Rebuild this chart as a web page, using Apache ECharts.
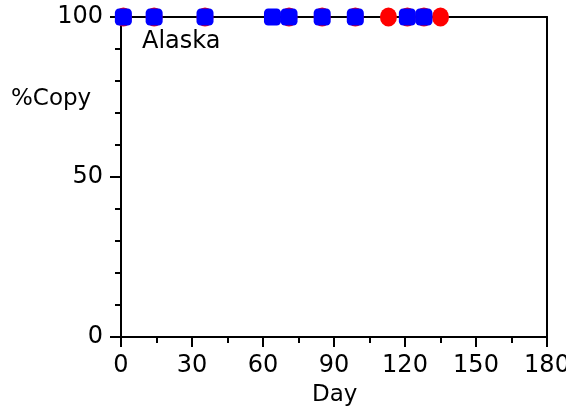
<!DOCTYPE html>
<html>
<head>
<meta charset="utf-8">
<script src="https://cdn.jsdelivr.net/npm/echarts@6/dist/echarts.min.js"></script>
<style>html,body{margin:0;padding:0;background:#fff;}#c{width:566px;height:413px;}</style>
</head>
<body>
<div id="c"></div>
<script>
var redDays = [1, 14, 35.5, 71, 85, 99, 113, 121, 128, 135];
var redCopy = [100, 100, 100, 100, 100, 100, 100, 100, 100, 100];
var blueDays = [1, 14, 35.5, 64, 71, 85, 99, 121, 128];
var blueCopy = [100, 100, 100, 100, 100, 100, 100, 100, 100];
var xTicks = [0, 30, 60, 90, 120, 150, 180];
var yTicks = [0, 50, 100];
var siteLabel = 'Alaska';
var xTitle = 'Day';
var yTitle = '%Copy';

var FONT = 'DejaVu Sans';
function pairs(xs, ys) { return xs.map(function (x, i) { return [x, ys[i]]; }); }

var chart = echarts.init(document.getElementById('c'), null, { renderer: 'canvas' });
chart.setOption({
  animation: false,
  backgroundColor: '#fff',
  grid: { left: 121, right: 19, top: 17, bottom: 76, show: false, containLabel: false, outerBoundsMode: 'none' },
  xAxis: [{
    type: 'value', min: xTicks[0], max: xTicks[xTicks.length - 1], interval: 30,
    axisLine: { show: true, lineStyle: { color: '#000', width: 2 } },
    axisTick: { show: true, inside: false, length: 10, lineStyle: { color: '#000', width: 2 } },
    minorTick: { show: true, splitNumber: 2, length: 6, lineStyle: { color: '#000', width: 2 } },
    splitLine: { show: false },
    axisLabel: { color: '#000', fontFamily: FONT, fontSize: 24, margin: 17 }
  }, {
    type: 'value', position: 'top', min: 0, max: 180,
    axisLine: { show: true, onZero: false, lineStyle: { color: '#000', width: 2 } },
    axisTick: { show: false }, axisLabel: { show: false }, splitLine: { show: false }
  }],
  yAxis: [{
    type: 'value', min: yTicks[0], max: yTicks[yTicks.length - 1], interval: 50,
    axisLine: { show: true, lineStyle: { color: '#000', width: 2 } },
    axisTick: { show: true, inside: false, length: 11, lineStyle: { color: '#000', width: 2 } },
    minorTick: { show: true, splitNumber: 5, length: 6, lineStyle: { color: '#000', width: 2 } },
    splitLine: { show: false },
    axisLabel: { color: '#000', fontFamily: FONT, fontSize: 24, margin: 18 }
  }, {
    type: 'value', position: 'right', min: 0, max: 100,
    axisLine: { show: true, onZero: false, lineStyle: { color: '#000', width: 2 } },
    axisTick: { show: false }, axisLabel: { show: false }, splitLine: { show: false }
  }],
  graphic: [
    { type: 'text', left: 142, top: 30, style: { text: siteLabel, fill: '#000', font: '24px "DejaVu Sans"' } },
    { type: 'text', left: 11, top: 88, style: { text: yTitle, fill: '#000', font: '23px "DejaVu Sans"' } },
    { type: 'text', left: 312, top: 384, style: { text: xTitle, fill: '#000', font: '23px "DejaVu Sans"' } }
  ],
  series: [{
    type: 'scatter', data: pairs(redDays, redCopy), symbol: 'circle', symbolSize: [17, 19],
    itemStyle: { color: '#ff0000', opacity: 1 }, clip: false, z: 3
  }, {
    type: 'scatter', data: pairs(blueDays, blueCopy), symbol: 'roundRect', symbolSize: 17,
    itemStyle: { color: '#0000ff', opacity: 1 }, clip: false, z: 4
  }]
});
</script>
</body>
</html>
